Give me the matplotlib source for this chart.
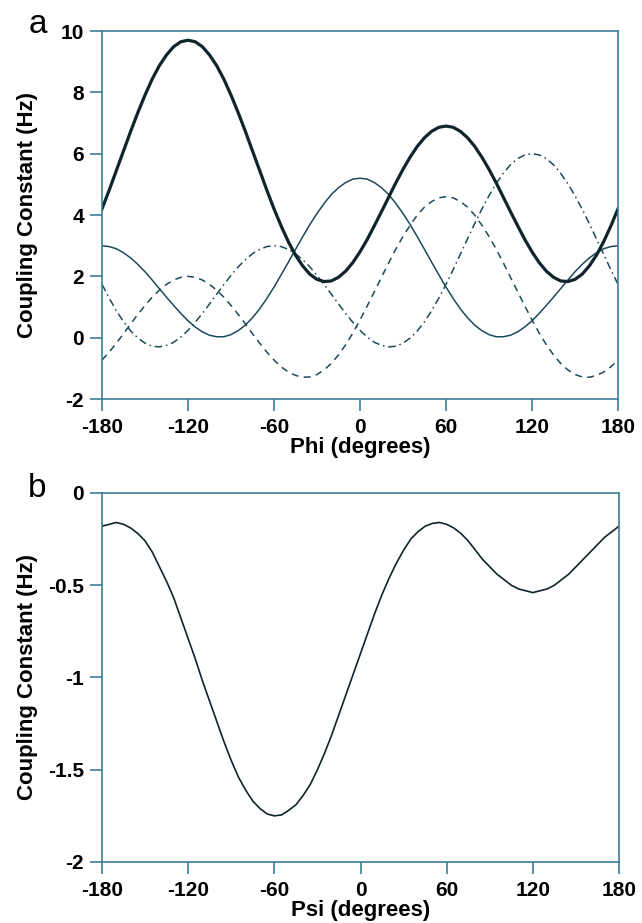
import numpy as np
import matplotlib
matplotlib.use("Agg")
import matplotlib.pyplot as plt
from matplotlib.ticker import FuncFormatter

plt.rcParams['font.family'] = ['Liberation Sans', 'DejaVu Sans']
plt.rcParams['axes.unicode_minus'] = False

# dihedral angle grid (degrees), 5 degree steps
angle = np.arange(-180, 181, 5)

# panel a: coupling constants vs phi (Hz)
j_thick = [4.20, 4.81, 5.45, 6.09, 6.73, 7.34, 7.91, 8.43, 8.87, 9.22, 9.49, 9.65,
           9.70, 9.65, 9.49, 9.22, 8.87, 8.43, 7.91, 7.34, 6.73, 6.09, 5.45, 4.81,
           4.20, 3.64, 3.13, 2.69, 2.34, 2.07, 1.90, 1.83, 1.85, 1.97, 2.17, 2.45,
           2.80, 3.20, 3.65, 4.11, 4.58, 5.05, 5.49, 5.89, 6.24, 6.52, 6.73, 6.86,
           6.90, 6.86, 6.73, 6.52, 6.24, 5.89, 5.49, 5.05, 4.58, 4.11, 3.65, 3.20,
           2.80, 2.45, 2.17, 1.97, 1.85, 1.83, 1.90, 2.07, 2.34, 2.69, 3.13, 3.64,
           4.20]
j_thin = [3.00, 2.97, 2.90, 2.77, 2.60, 2.39, 2.15, 1.88, 1.60, 1.32, 1.05, 0.79,
          0.55, 0.35, 0.19, 0.08, 0.03, 0.03, 0.10, 0.23, 0.41, 0.65, 0.94, 1.28,
          1.65, 2.05, 2.46, 2.88, 3.29, 3.69, 4.05, 4.38, 4.67, 4.89, 5.06, 5.17,
          5.20, 5.17, 5.06, 4.89, 4.67, 4.38, 4.05, 3.69, 3.29, 2.88, 2.46, 2.05,
          1.65, 1.28, 0.94, 0.65, 0.41, 0.23, 0.10, 0.03, 0.03, 0.08, 0.19, 0.35,
          0.55, 0.79, 1.05, 1.32, 1.60, 1.88, 2.15, 2.39, 2.60, 2.77, 2.90, 2.97,
          3.00]
j_dash = [-0.73, -0.47, -0.18, 0.13, 0.45, 0.76, 1.05, 1.32, 1.55, 1.74, 1.88, 1.97,
          2.00, 1.97, 1.88, 1.74, 1.55, 1.32, 1.05, 0.76, 0.45, 0.13, -0.18, -0.47,
          -0.73, -0.95, -1.12, -1.23, -1.29, -1.28, -1.20, -1.05, -0.84, -0.56, -0.23, 0.15,
          0.58, 1.03, 1.50, 1.97, 2.44, 2.89, 3.30, 3.67, 4.00, 4.26, 4.44, 4.56,
          4.60, 4.56, 4.44, 4.26, 4.00, 3.67, 3.30, 2.89, 2.44, 1.97, 1.50, 1.03,
          0.58, 0.15, -0.23, -0.56, -0.84, -1.05, -1.20, -1.28, -1.29, -1.23, -1.12, -0.95,
          -0.73]
j_dashdot = [1.74, 1.29, 0.88, 0.52, 0.22, -0.01, -0.18, -0.28, -0.30, -0.25, -0.15, 0.02,
             0.24, 0.50, 0.79, 1.10, 1.42, 1.73, 2.03, 2.31, 2.54, 2.74, 2.88, 2.97,
             3.00, 2.97, 2.88, 2.74, 2.54, 2.31, 2.03, 1.73, 1.42, 1.10, 0.79, 0.50,
             0.24, 0.02, -0.15, -0.25, -0.30, -0.28, -0.18, -0.01, 0.22, 0.52, 0.88, 1.29,
             1.74, 2.22, 2.72, 3.22, 3.72, 4.19, 4.63, 5.02, 5.36, 5.64, 5.84, 5.96,
             6.00, 5.96, 5.84, 5.64, 5.36, 5.02, 4.63, 4.19, 3.72, 3.22, 2.72, 2.22,
             1.74]

# panel b: coupling constant vs psi (Hz)
j_psi = [-0.18, -0.17, -0.16, -0.17, -0.19, -0.22, -0.26, -0.32, -0.40, -0.48, -0.57, -0.68,
         -0.79, -0.90, -1.02, -1.13, -1.24, -1.35, -1.45, -1.54, -1.61, -1.67, -1.71, -1.74,
         -1.75, -1.745, -1.72, -1.69, -1.64, -1.58, -1.50, -1.41, -1.31, -1.20, -1.09, -0.98,
         -0.87, -0.76, -0.65, -0.55, -0.46, -0.38, -0.31, -0.25, -0.21, -0.18, -0.165, -0.16,
         -0.17, -0.19, -0.22, -0.26, -0.31, -0.36, -0.40, -0.44, -0.47, -0.50, -0.52, -0.53,
         -0.54, -0.53, -0.52, -0.50, -0.47, -0.44, -0.40, -0.36, -0.32, -0.28, -0.24, -0.21,
         -0.18]

x_ticks = [-180, -120, -60, 0, 60, 120, 180]
ya_ticks = [-2, 0, 2, 4, 6, 8, 10]
yb_ticks = [-2, -1.5, -1, -0.5, 0]

axis_col = '#3d7e9a'
dark = '#10242c'
thin_col = '#1d4a5a'

fig = plt.figure(figsize=(6.42, 9.23), dpi=100)
ax1 = fig.add_axes([0.1589, 0.5677, 0.8037, 0.3987])
ax2 = fig.add_axes([0.1589, 0.0661, 0.8053, 0.3998])

ax1.plot(angle, j_thin, color=thin_col, lw=1.1)
ax1.plot(angle, j_dash, color=thin_col, lw=1.1, dashes=(4.5, 3.5))
ax1.plot(angle, j_dashdot, color=thin_col, lw=1.1, dashes=(5, 2.5, 1, 2.5))
ax1.plot(angle, j_thick, color=dark, lw=2.3)
ax1.set_ylim(-2, 10)
ax1.set_yticks(ya_ticks)
ax1.set_xlabel('Phi (degrees)')

ax2.plot(angle, j_psi, color=dark, lw=1.2)
ax2.set_ylim(-2, 0)
ax2.set_yticks(yb_ticks)
ax2.set_xlabel('Psi (degrees)')

for ax in (ax1, ax2):
    ax.set_xlim(-180, 180)
    ax.set_xticks(x_ticks)
    ax.xaxis.set_major_formatter(FuncFormatter(lambda v, p: '%g' % v))
    ax.yaxis.set_major_formatter(FuncFormatter(lambda v, p: '%g' % v))
    for s in ax.spines.values():
        s.set_color(axis_col)
        s.set_linewidth(1.2)
    ax.tick_params(direction='out', length=8.5, width=1.2, color=axis_col,
                   labelsize=15)
    ax.tick_params(axis='x', pad=5.5)
    ax.tick_params(axis='y', pad=4.5)
    for lab in ax.get_xticklabels() + ax.get_yticklabels():
        lab.set_fontweight('bold')
    ax.xaxis.label.set_fontsize(16)
    ax.xaxis.label.set_fontweight('bold')
    ax.xaxis.labelpad = 0
    ax.set_ylabel('Coupling Constant (Hz)', fontsize=16, fontweight='bold')
    ax.yaxis.set_label_coords(-0.124, 0.5)

fig.text(0.044, 0.9642, 'a', fontsize=24)
fig.text(0.044, 0.4615, 'b', fontsize=24)

fig.savefig('out.png', dpi=100)
